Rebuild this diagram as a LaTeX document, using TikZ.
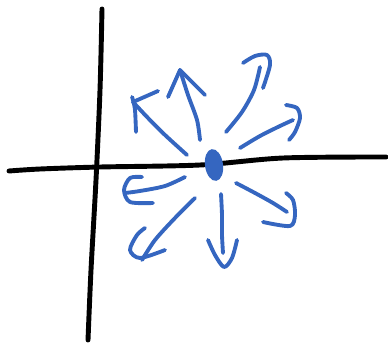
\documentclass[tikz,border=0pt]{standalone}
\usepackage{tikz}
\definecolor{penblue}{HTML}{3566C0}

\begin{document}
\begin{tikzpicture}[x=0.02cm,y=-0.02cm,
    axis/.style={draw=black,line width=2.8pt,line cap=round,line join=round},
    flow/.style={draw=penblue,line width=2.2pt,line cap=round,line join=round}]
  \useasboundingbox (0,0) rectangle (388,348);

  % axes
  \draw[axis] plot[smooth] coordinates {(9,171) (40,169) (100,167) (200,165) (283,158) (386,157)};
  \draw[axis] plot[smooth] coordinates {(102,9) (100,90) (96,180) (91,270) (88,340)};

  % fixed point
  \fill[penblue,rotate around={8:(214,165)}] (214,165) ellipse (9 and 16);

  % outgoing directions
  \draw[flow] plot[smooth] coordinates {(187,155) (165,135) (148,118) (133,102)};
  \draw[flow] plot[smooth] coordinates {(136,132) (135,110) (133,100) (132,97)};
  \draw[flow] (133,102) -- (158,91);

  \draw[flow] plot[smooth] coordinates {(200,140) (197,120) (188,95) (180,70)};
  \draw[flow] (168,97) -- (180,70) -- (205,95);

  \draw[flow] plot[smooth] coordinates {(226,132) (242,112) (254,90) (260,67)};
  \draw[flow] plot[smooth] coordinates {(243,63) (255,56) (267,55) (270,65) (263,88)};

  \draw[flow] plot[smooth] coordinates {(240,148) (260,136) (280,126) (293,120)};
  \draw[flow] plot[smooth] coordinates {(286,105) (297,108) (300,118) (295,132) (289,140)};

  \draw[flow] plot[smooth] coordinates {(185,177) (165,186) (140,191) (125,193)};
  \draw[flow] plot[smooth] coordinates {(142,177) (130,178) (124,190) (130,202) (153,203)};

  \draw[flow] plot[smooth] coordinates {(195,198) (175,218) (155,240) (142,260)};
  \draw[flow] plot[smooth] coordinates {(145,228) (137,235) (130,250) (140,258) (165,250)};

  \draw[flow] plot[smooth] coordinates {(221,194) (222,215) (222,235) (223,253)};
  \draw[flow] plot[smooth] coordinates {(208,240) (215,255) (224,267) (232,258) (237,240)};

  \draw[flow] plot[smooth] coordinates {(236,183) (255,193) (273,203) (287,212)};
  \draw[flow] plot[smooth] coordinates {(286,193) (293,200) (295,215) (290,226) (263,222)};
\end{tikzpicture}
\end{document}
